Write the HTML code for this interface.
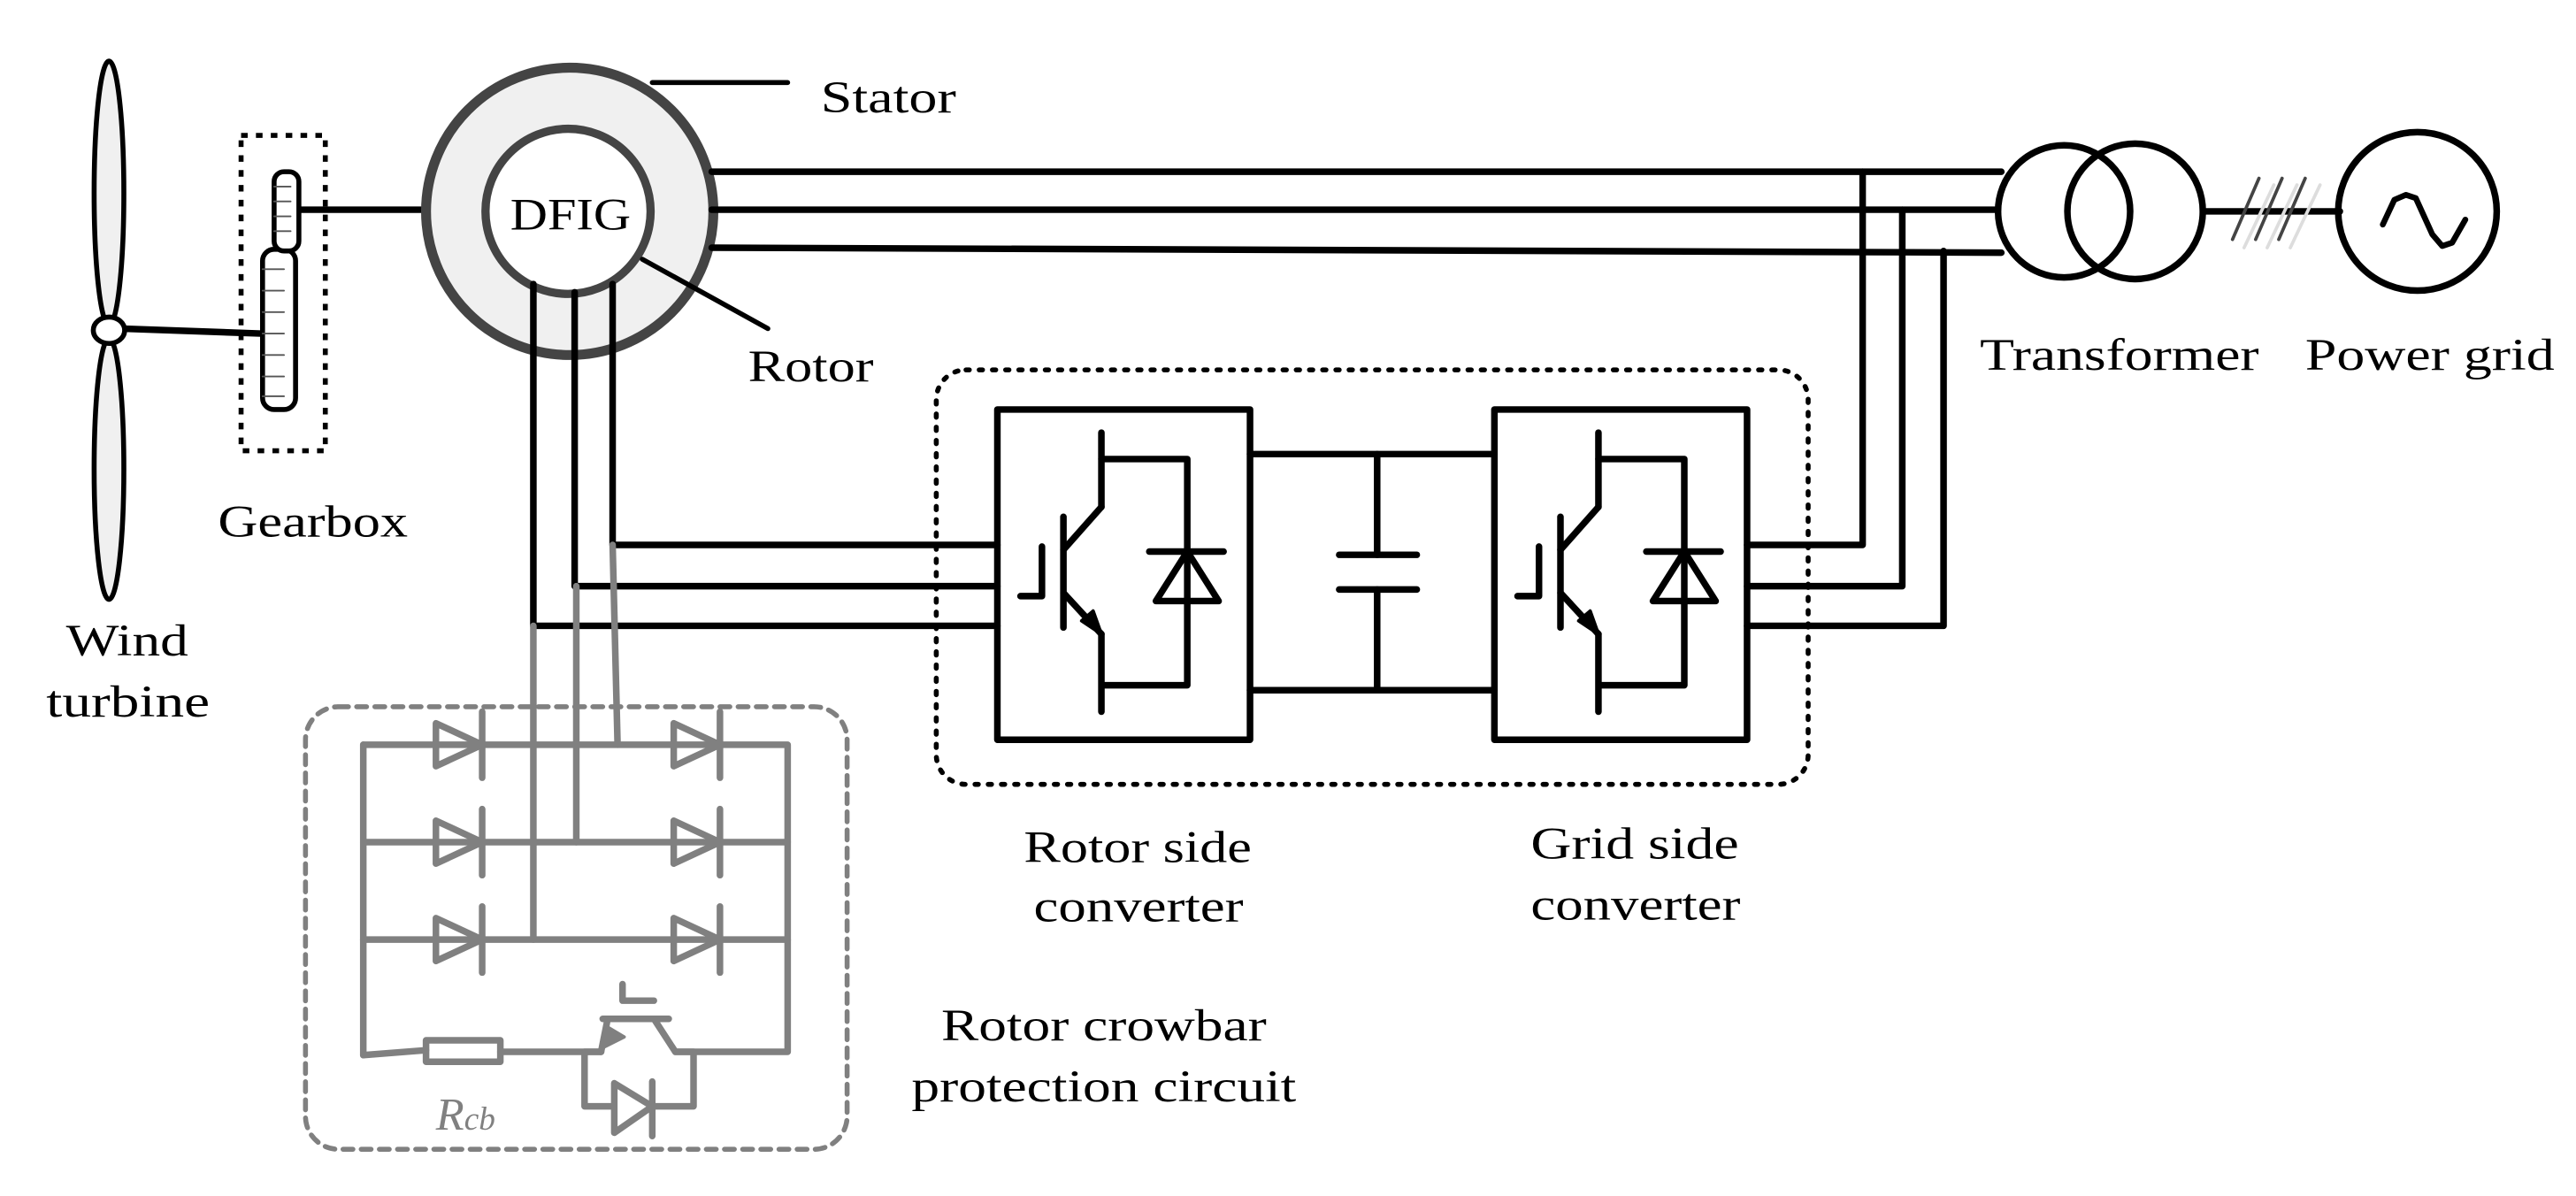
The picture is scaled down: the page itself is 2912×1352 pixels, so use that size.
<!DOCTYPE html>
<html><head><meta charset="utf-8"><style>html,body{margin:0;padding:0;background:#fff}svg{display:block}</style></head>
<body>
<svg width="2912" height="1352" viewBox="0 0 1560 724.3" preserveAspectRatio="none" xmlns="http://www.w3.org/2000/svg" font-family="'Liberation Serif', serif">
<g fill="none" stroke="#000" stroke-width="4" stroke-linecap="round" stroke-linejoin="round">
<!-- turbine -->
<ellipse cx="66" cy="117" rx="9" ry="80" fill="#f0f0f0" stroke-width="3"/>
<ellipse cx="66" cy="284" rx="9" ry="79" fill="#f0f0f0" stroke-width="3"/>
<line x1="74" y1="199" x2="158" y2="202"/>
<ellipse cx="66" cy="200" rx="9.5" ry="8" fill="#fff" stroke-width="3"/>
<!-- gearbox -->
<rect x="146" y="82" width="51" height="191" stroke-width="3" stroke-dasharray="4 5" stroke-linecap="butt"/>
<line x1="182" y1="127" x2="294" y2="127"/>
<rect x="159" y="151" width="20" height="97" rx="7" fill="#fff" stroke-width="3"/>
<g stroke-width="1" stroke="#555"><line x1="159" y1="163" x2="172" y2="163"/><line x1="159" y1="176" x2="172" y2="176"/><line x1="159" y1="189" x2="172" y2="189"/><line x1="159" y1="202" x2="172" y2="202"/><line x1="159" y1="215" x2="172" y2="215"/><line x1="159" y1="228" x2="172" y2="228"/><line x1="159" y1="240" x2="172" y2="240"/></g>
<rect x="166" y="104" width="15" height="48" rx="6" fill="#fff" stroke-width="3"/>
<g stroke-width="1" stroke="#555"><line x1="166" y1="113" x2="176" y2="113"/><line x1="166" y1="122" x2="176" y2="122"/><line x1="166" y1="131" x2="176" y2="131"/><line x1="166" y1="140" x2="176" y2="140"/></g>
<!-- DFIG -->
<circle cx="345" cy="128" r="87" fill="#f0f0f0" stroke="#444" stroke-width="6"/>
<circle cx="344" cy="128" r="50" fill="#fff" stroke="#444" stroke-width="5"/>
<line x1="395" y1="50" x2="477" y2="50" stroke-width="3"/>
<line x1="389" y1="157" x2="465" y2="199" stroke-width="3"/>
<!-- stator lines -->
<line x1="431" y1="104" x2="1212" y2="104"/>
<line x1="431" y1="127" x2="1210" y2="127"/>
<line x1="431" y1="150" x2="1212" y2="153"/>
<polyline points="1128,104 1128,330 1058,330"/>
<polyline points="1152,127 1152,355 1058,355"/>
<polyline points="1177,152 1177,379 1058,379"/>
<!-- rotor lines -->
<polyline points="371,172 371,330 604,330"/>
<polyline points="348,177 348,355 604,355"/>
<polyline points="323,172 323,379 604,379"/>
<!-- transformer -->
<circle cx="1250" cy="128" r="40"/>
<circle cx="1293" cy="128" r="41"/>
<line x1="1334" y1="128" x2="1417" y2="128"/>
<g stroke-width="2"><line x1="1352" y1="145" x2="1368" y2="108" stroke="#444"/><line x1="1366" y1="145" x2="1382" y2="108" stroke="#444"/><line x1="1380" y1="145" x2="1396" y2="108" stroke="#444"/><line x1="1359" y1="150" x2="1377" y2="112" stroke="#ddd"/><line x1="1373" y1="150" x2="1391" y2="112" stroke="#ddd"/><line x1="1387" y1="150" x2="1405" y2="112" stroke="#ddd"/></g>
<circle cx="1464" cy="128" r="48"/>
<polyline points="1443,136 1450,121 1457,118 1463,120 1473,142 1479,149 1485,147 1493,133" stroke-width="3.5"/>
<!-- big dashed -->
<rect x="567" y="224" width="528" height="251" rx="18" stroke-width="3" stroke-dasharray="2 6"/>
<!-- converters -->
<g id="conv">
<rect x="604" y="248" width="153" height="200"/>
<line x1="667" y1="262" x2="667" y2="307"/>
<polyline points="667,278 719,278 719,415 669,415"/>
<line x1="696" y1="334" x2="741" y2="334"/>
<polygon points="700,364 738,364 719,334"/>
<line x1="667" y1="307" x2="644" y2="333"/>
<line x1="644" y1="313" x2="644" y2="380"/>
<line x1="644" y1="359" x2="667" y2="384"/>
<polygon points="667,384 655,376 662,370" fill="#000" stroke-width="2"/>
<line x1="667" y1="384" x2="667" y2="431"/>
<polyline points="631,331 631,361 618,361"/>
</g>
<use href="#conv" transform="translate(301,0)"/>
<line x1="757" y1="275" x2="905" y2="275"/>
<line x1="757" y1="418" x2="905" y2="418"/>
<line x1="834" y1="275" x2="834" y2="336"/>
<line x1="834" y1="357" x2="834" y2="418"/>
<line x1="811" y1="336" x2="858" y2="336"/>
<line x1="811" y1="357" x2="858" y2="357"/>
<!-- crowbar -->
<g stroke="#808080">
<rect x="185" y="428" width="328" height="268" rx="20" stroke-width="3" stroke-dasharray="6 5"/>
<line x1="323" y1="379" x2="323" y2="569"/>
<line x1="349" y1="355" x2="349" y2="510"/>
<line x1="371" y1="330" x2="374" y2="451"/>
<polyline points="220,451 477,451 477,637 409,637 396,617"/>
<line x1="220" y1="451" x2="220" y2="639"/>
<line x1="220" y1="510" x2="477" y2="510"/>
<line x1="220" y1="569" x2="477" y2="569"/>
<g id="d1"><polygon points="264,438 292,451 264,464"/><line x1="292" y1="431" x2="292" y2="471"/></g>
<use href="#d1" transform="translate(144,0)"/>
<use href="#d1" transform="translate(0,59)"/><use href="#d1" transform="translate(144,59)"/>
<use href="#d1" transform="translate(0,118)"/><use href="#d1" transform="translate(144,118)"/>
<polyline points="220,639 258,636"/>
<rect x="258" y="630" width="45" height="13"/>
<line x1="303" y1="637" x2="364" y2="637"/>
<line x1="365" y1="617" x2="405" y2="617"/>
<line x1="368" y1="617" x2="364" y2="637"/>
<polygon points="364,635 368,622 378,628" fill="#808080" stroke-width="2"/>
<polyline points="377,596 377,606 396,606"/>
<polyline points="364,637 354,637 354,670 420,670 420,637 409,637"/>
<polygon points="372,656 395,670 372,686" fill="#fff"/>
<line x1="395" y1="655" x2="395" y2="688"/>
</g>
</g>
<g font-size="27" fill="#000">
<text x="497" y="68" textLength="82" lengthAdjust="spacingAndGlyphs">Stator</text>
<text x="309" y="139" textLength="73" lengthAdjust="spacingAndGlyphs">DFIG</text>
<text x="453" y="231" textLength="76" lengthAdjust="spacingAndGlyphs">Rotor</text>
<text x="132" y="325" textLength="115" lengthAdjust="spacingAndGlyphs">Gearbox</text>
<text x="40" y="397" textLength="74" lengthAdjust="spacingAndGlyphs">Wind</text>
<text x="28" y="434" textLength="99" lengthAdjust="spacingAndGlyphs">turbine</text>
<text x="1199" y="224" textLength="169" lengthAdjust="spacingAndGlyphs">Transformer</text>
<text x="1396" y="224" textLength="151" lengthAdjust="spacingAndGlyphs">Power grid</text>
<text x="620" y="522" textLength="138" lengthAdjust="spacingAndGlyphs">Rotor side</text>
<text x="626" y="558" textLength="127" lengthAdjust="spacingAndGlyphs">converter</text>
<text x="927" y="520" textLength="126" lengthAdjust="spacingAndGlyphs">Grid side</text>
<text x="927" y="557" textLength="127" lengthAdjust="spacingAndGlyphs">converter</text>
<text x="570" y="630" textLength="197" lengthAdjust="spacingAndGlyphs">Rotor crowbar</text>
<text x="552" y="667" textLength="233" lengthAdjust="spacingAndGlyphs">protection circuit</text>
<text x="264" y="684" fill="#808080" font-style="italic" font-size="28">R<tspan font-size="20">cb</tspan></text>
</g>
</svg>
</body></html>
